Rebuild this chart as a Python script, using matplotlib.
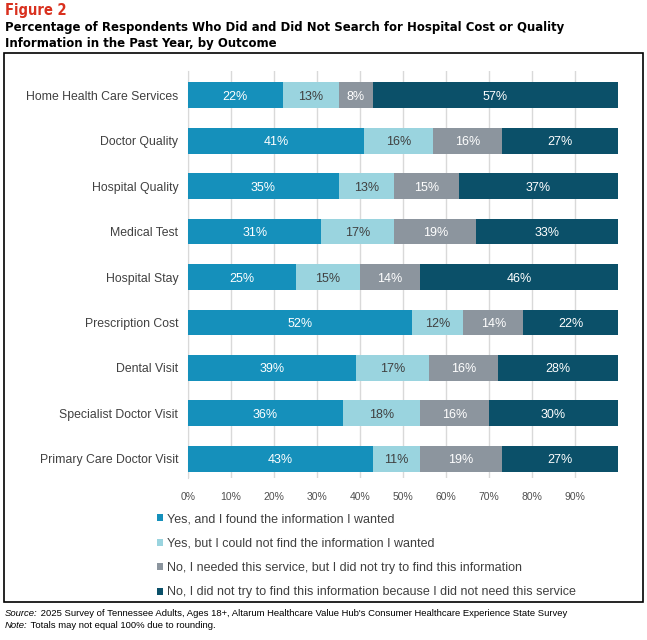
import matplotlib.pyplot as plt
import matplotlib.patches as mpatches
import numpy as np

# data
services = ['Home Health Care Services', 'Doctor Quality', 'Hospital Quality',
            'Medical Test', 'Hospital Stay', 'Prescription Cost', 'Dental Visit',
            'Specialist Doctor Visit', 'Primary Care Doctor Visit']
found = [22, 41, 35, 31, 25, 52, 39, 36, 43]
not_found = [13, 16, 13, 17, 15, 12, 17, 18, 11]
needed_no_try = [8, 16, 15, 19, 14, 14, 16, 16, 19]
not_needed = [57, 27, 37, 33, 46, 22, 28, 30, 27]

series_names = ['Yes, and I found the information I wanted',
                'Yes, but I could not find the information I wanted',
                'No, I needed this service, but I did not try to find this information',
                'No, I did not try to find this information because I did not need this service']
colors = ['#1590bb', '#9ad4df', '#8c959e', '#0b5069']
text_colors = ['white', '#404040', 'white', 'white']

xticks = [0, 10, 20, 30, 40, 50, 60, 70, 80, 90]

font = ['Liberation Sans', 'DejaVu Sans']
plt.rcParams['font.family'] = font

fig = plt.figure(figsize=(6.47, 6.40), dpi=100)
ax = fig.add_axes([188/647, 1-478/640, 430/647, 407/640])

y = np.arange(len(services))
left = np.zeros(len(services))
handles = []
for vals, col, tc, name in zip([found, not_found, needed_no_try, not_needed],
                               colors, text_colors, series_names):
    bars = ax.barh(y, vals, left=left, height=0.57, color=col, label=name, zorder=3)
    handles.append(bars)
    for b, v in zip(bars, vals):
        ax.text(b.get_x() + b.get_width()/2, b.get_y() + b.get_height()/2, f'{v}%',
                ha='center', va='center_baseline', color=tc, fontsize=9, zorder=4)
    left += np.array(vals)

ax.set_xlim(0, 100)
ax.set_ylim(8.42, -0.53)
ax.set_xticks(xticks)
ax.set_xticklabels([f'{t}%' for t in xticks], fontsize=7.5, color='#505050')
ax.set_yticks(y)
ax.set_yticklabels(services, fontsize=8.8, color='#404040')
ax.tick_params(axis='y', length=0, pad=7)
ax.tick_params(axis='x', length=0, pad=10)
ax.grid(axis='x', color='#d9d9d9', linewidth=1, zorder=0)
for s in ['top', 'right', 'bottom']:
    ax.spines[s].set_visible(False)
ax.spines['left'].set_color('#d9d9d9')

fig.legend(handles=handles, labels=series_names, loc='upper left',
           bbox_to_anchor=(157/647, 1-513/640), frameon=False, fontsize=9,
           labelcolor='#404040', handlelength=0.5, handleheight=0.5,
           handletextpad=0.3, labelspacing=1.0, borderaxespad=0, borderpad=0)

# frame around the chart
fig.patches.append(mpatches.Rectangle((4/647, 1-602/640), 639/647, 549/640,
                                      transform=fig.transFigure, fill=False,
                                      edgecolor='black', linewidth=1.2))

title_font = ['DejaVu Sans']
fig.text(5/647, 1-11/640, 'Figure 2', fontsize=10.5, fontweight='bold', fontstretch='condensed',
         color='#d9301e', va='center', family=title_font)
fig.text(5/647, 1-28/640,
         'Percentage of Respondents Who Did and Did Not Search for Hospital Cost or Quality',
         fontsize=9.4, fontweight='bold', fontstretch='condensed', color='black', va='center',
         family=title_font)
fig.text(5/647, 1-44/640, 'Information in the Past Year, by Outcome',
         fontsize=9.4, fontweight='bold', fontstretch='condensed', color='black', va='center',
         family=title_font)

# footnotes: italic prefix followed by plain text
fig.canvas.draw()
renderer = fig.canvas.get_renderer()
for ypix, prefix, rest in [(614, 'Source:', " 2025 Survey of Tennessee Adults, Ages 18+, Altarum Healthcare Value Hub's Consumer Healthcare Experience State Survey"),
                           (626, 'Note:', ' Totals may not equal 100% due to rounding.')]:
    t = fig.text(5/647, 1-ypix/640, prefix, fontsize=6.8, style='italic', va='center', family=font)
    bb = t.get_window_extent(renderer)
    fig.text(bb.x1/fig.bbox.width, 1-ypix/640, rest, fontsize=6.8, va='center', family=font)

fig.savefig('out.png', dpi=100)
